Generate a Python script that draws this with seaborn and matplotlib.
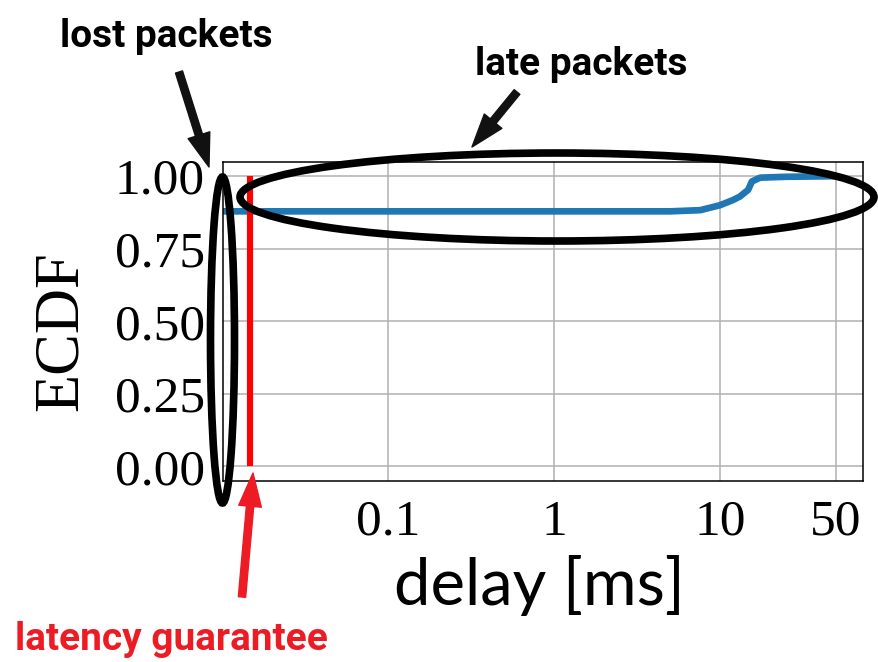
import numpy as np
import pandas as pd
import matplotlib
matplotlib.use("Agg")
import matplotlib.pyplot as plt
import seaborn as sns
from matplotlib.patches import Ellipse, FancyArrowPatch

# ECDF of packet delay
delay_ms = [0.01, 1.0, 5.0, 7.6, 10.0, 12.0, 13.2, 14.8, 15.6, 17.5, 25.0, 50.0]
ecdf = [0.879, 0.879, 0.879, 0.883, 0.90, 0.918, 0.93, 0.953, 0.982, 0.995, 0.998, 1.0]
latency_guarantee_ms = 0.0147

x_ticks = [0.1, 1, 10, 50]
x_ticklabels = ["0.1", "1", "10", "50"]
y_ticks = [0.0, 0.25, 0.5, 0.75, 1.0]
y_ticklabels = ["0.00", "0.25", "0.50", "0.75", "1.00"]

notes = ["lost packets", "late packets", "latency guarantee"]

df = pd.DataFrame({"delay": delay_ms, "ecdf": ecdf})

sns.set_style("whitegrid")
plt.rcParams["font.family"] = ["Liberation Serif", "DejaVu Serif"]
plt.rcParams["text.color"] = "black"
plt.rcParams["axes.labelcolor"] = "black"

W, H = 879, 662
fig = plt.figure(figsize=(W / 100, H / 100), dpi=100)

def fx(px):
    return px / W

def fy(py):
    return 1 - py / H

ax = fig.add_axes([fx(222.7), fy(481), fx(863) - fx(222.7), fy(161.7) - fy(481)])

sns.lineplot(data=df, x="delay", y="ecdf", ax=ax, color="#1f77b4", lw=4.8)
ax.vlines(latency_guarantee_ms, 0, 1, color="red", lw=4.4, zorder=3)

ax.set_xscale("log")
ax.set_xlim(0.01, 73)
ax.set_ylim(-0.05, 1.05)
ax.set_xticks(x_ticks)
ax.set_xticklabels(x_ticklabels)
ax.minorticks_off()
ax.set_yticks(y_ticks)
ax.set_yticklabels(y_ticklabels)
ax.tick_params(axis="both", labelsize=37, length=7, width=1, direction="out",
               color="black", pad=6, labelcolor="black")
ax.grid(True, color="#b0b0b0", lw=1.1)
for s in ax.spines.values():
    s.set_color("black")
    s.set_linewidth(1.1)

ax.set_xlabel("delay [ms]", fontsize=47, family=["Lato", "DejaVu Sans"], va="center",
              color="black")
ax.xaxis.set_label_coords((539 - 222.7) / 640.3, (481 - 586) / 319.3)
ax.set_ylabel("ECDF", fontsize=45, va="center", color="black")
ax.yaxis.set_label_coords((62 - 222.7) / 640.3, (481 - 331) / 319.3)

# annotations drawn over the figure
ann_font = ["Roboto", "DejaVu Sans"]
fig.text(fx(166), fy(47), notes[0], ha="center", va="baseline", fontsize=28,
         weight="bold", family=ann_font, color="black")
fig.text(fx(581), fy(75), notes[1], ha="center", va="baseline", fontsize=28,
         weight="bold", family=ann_font, color="black")
fig.text(fx(171), fy(650), notes[2], ha="center", va="baseline", fontsize=28,
         weight="bold", family=ann_font, color="#ed1c24")

fig.add_artist(Ellipse((fx(557), fy(197)), fx(634), 88 / H, fill=False,
                       ec="black", lw=5.5, transform=fig.transFigure, clip_on=False))
fig.add_artist(Ellipse((fx(222.5), fy(340)), fx(24), 326 / H, fill=False,
                       ec="black", lw=5.5, transform=fig.transFigure, clip_on=False))

arrow_style = "simple,head_length=0.5,head_width=0.34,tail_width=0.11"
for (x0, y0), (x1, y1), col in [((179, 72), (209, 167), "#111111"),
                                ((517, 92), (472, 147), "#111111"),
                                ((242, 597), (253, 473), "#ed1c24")]:
    fig.add_artist(FancyArrowPatch((fx(x0), fy(y0)), (fx(x1), fy(y1)),
                                   transform=fig.transFigure, arrowstyle=arrow_style,
                                   mutation_scale=48, color=col, shrinkA=0, shrinkB=0))

fig.savefig("out.png", dpi=100)
